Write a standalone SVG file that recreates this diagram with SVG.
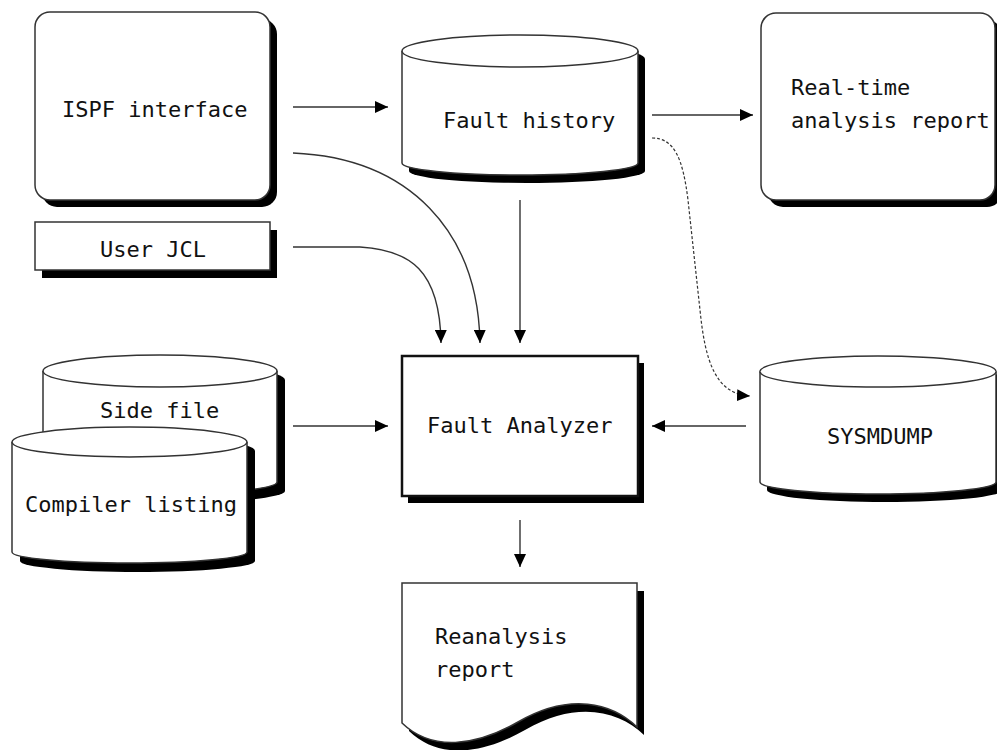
<svg xmlns="http://www.w3.org/2000/svg" width="997" height="750" viewBox="0 0 997 750">
<style>
.bg{fill:#fff}
.shape{fill:#fff;stroke:#333;stroke-width:1.5}
.thick{fill:#fff;stroke:#111;stroke-width:2.5}
.shadow{fill:#000;stroke:none}
.edge{fill:none;stroke:#333;stroke-width:1.4}
.dash{fill:none;stroke:#333;stroke-width:1.2;stroke-dasharray:3 2}
text{font-family:"DejaVu Sans Mono","Liberation Mono",monospace;font-size:22px;fill:#111}
</style>
<defs>
<marker id="ah" viewBox="0 0 13 12" refX="13" refY="6" markerWidth="13" markerHeight="12" markerUnits="userSpaceOnUse" orient="auto">
<path d="M0,0 L13,6 L0,12 Z" fill="#000"/>
</marker>
</defs>
<rect class="bg" x="0" y="0" width="997" height="750"/>

<g id="ispf">
<rect class="shadow" x="42" y="19" width="235" height="188" rx="15"/>
<rect class="shape" x="35" y="12" width="235" height="188" rx="15"/>
<text x="62" y="117">ISPF interface</text>
</g>

<g id="userjcl">
<rect class="shadow" x="42" y="230" width="235" height="48"/>
<rect class="shape" x="35" y="222" width="235" height="48"/>
<text x="100" y="257">User JCL</text>
</g>

<g id="faulthistory">
<path class="shadow" transform="translate(7,8)" d="M402,51 A118,16 0 0 1 638,51 L638,163 A118,12 0 0 1 402,163 Z"/>
<path class="shape" d="M402,51 A118,16 0 0 1 638,51 L638,163 A118,12 0 0 1 402,163 Z"/>
<path class="shape" fill="none" d="M402,51 A118,16 0 0 0 638,51"/>
<text x="443" y="128">Fault history</text>
</g>

<g id="realtime">
<rect class="shadow" x="768" y="20" width="234" height="187" rx="15"/>
<rect class="shape" x="761" y="13" width="234" height="187" rx="15"/>
<text x="791" y="95">Real-time</text>
<text x="791" y="128">analysis report</text>
</g>

<g id="sidefile">
<path class="shadow" transform="translate(8,9)" d="M43,371 A117,16 0 0 1 277,371 L277,482 A117,12 0 0 1 43,482 Z"/>
<path class="shape" d="M43,371 A117,16 0 0 1 277,371 L277,482 A117,12 0 0 1 43,482 Z"/>
<path class="shape" d="M43,371 A117,16 0 0 0 277,371"/>
<text x="100" y="418">Side file</text>
</g>

<g id="compiler">
<path class="shadow" transform="translate(8,9)" d="M12,442 A117.5,15 0 0 1 247,442 L247,552 A117.5,11 0 0 1 12,552 Z"/>
<path class="shape" d="M12,442 A117.5,15 0 0 1 247,442 L247,552 A117.5,11 0 0 1 12,552 Z"/>
<path class="shape" d="M12,442 A117.5,15 0 0 0 247,442"/>
<text x="25" y="512">Compiler listing</text>
</g>

<g id="faultanalyzer">
<rect class="shadow" x="408" y="363" width="236" height="140"/>
<rect class="thick" x="402" y="356" width="236" height="140"/>
<text x="427" y="433">Fault Analyzer</text>
</g>

<g id="sysmdump">
<path class="shadow" transform="translate(7,8)" d="M760,371.5 A118,15.5 0 0 1 996,371.5 L996,482 A118,12 0 0 1 760,482 Z"/>
<path class="shape" d="M760,371.5 A118,15.5 0 0 1 996,371.5 L996,482 A118,12 0 0 1 760,482 Z"/>
<path class="shape" d="M760,371.5 A118,15.5 0 0 0 996,371.5"/>
<text x="827" y="444">SYSMDUMP</text>
</g>

<g id="reanalysis">
<path class="shadow" transform="translate(7,8)" d="M402,583 L637,583 L637,727 C612,703 570,692 518,722 C476,746 432,752 402,723 Z"/>
<path class="shape" d="M402,583 L637,583 L637,727 C612,703 570,692 518,722 C476,746 432,752 402,723 Z"/>
<text x="435" y="644">Reanalysis</text>
<text x="435" y="677">report</text>
</g>

<g id="connectors">
<path class="edge" marker-end="url(#ah)" d="M293,107 L388,107"/>
<path class="edge" marker-end="url(#ah)" d="M652,115 L753,115"/>
<path class="edge" marker-end="url(#ah)" d="M293,426 L388,426"/>
<path class="edge" marker-end="url(#ah)" d="M746,426 L652,426"/>
<path class="edge" marker-end="url(#ah)" d="M520,200 L520,343"/>
<path class="edge" marker-end="url(#ah)" d="M520,520 L520,567"/>
<path class="edge" marker-end="url(#ah)" d="M293,153 C410,158 478,232 480,343"/>
<path class="edge" marker-end="url(#ah)" d="M293,247 L360,247 C410,250 440,270 441,343"/>
<path class="dash" marker-end="url(#ah)" d="M652,138 C675,138 683,160 688,200 L700,310 C705,360 715,394 750,396"/>
</g>
</svg>
